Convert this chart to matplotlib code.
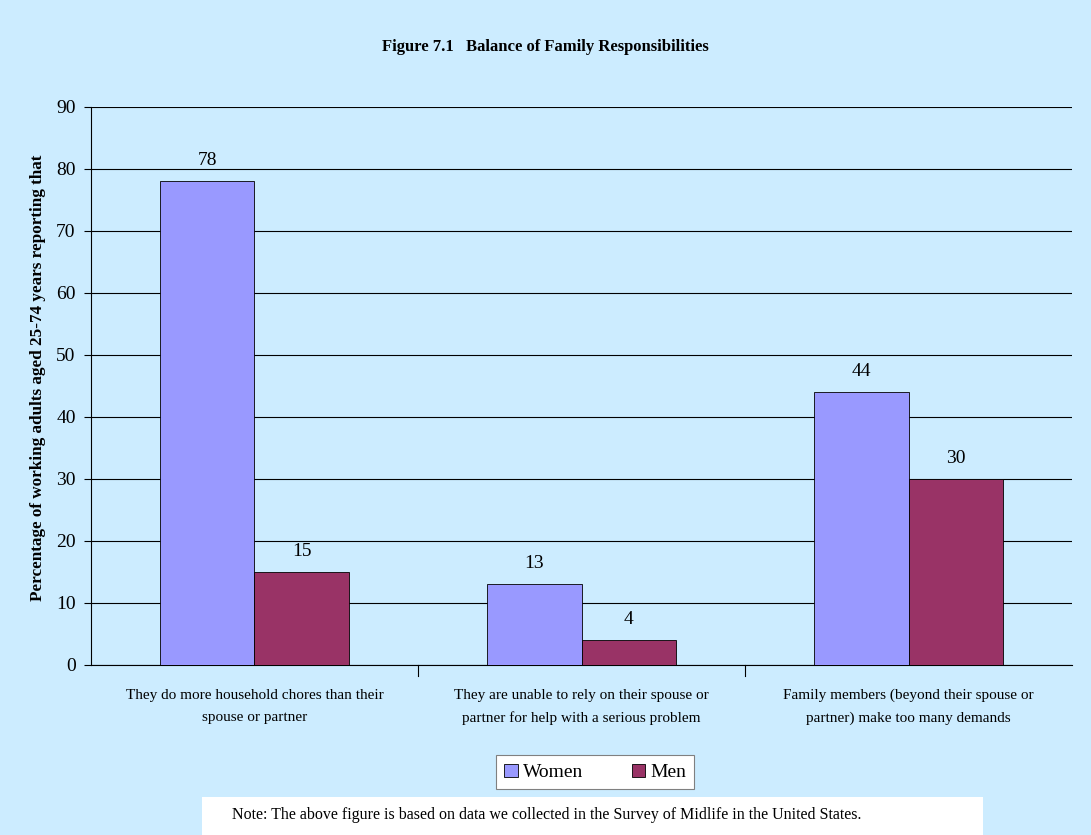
import numpy as np
import matplotlib.pyplot as plt
from matplotlib.patches import Rectangle

categories = [
    "They do more household chores than their\nspouse or partner",
    "They are unable to rely on their spouse or\npartner for help with a serious problem",
    "Family members (beyond their spouse or\npartner) make too many demands",
]
women = [78, 13, 44]
men = [15, 4, 30]
yticks = list(range(0, 100, 10))

bg = "#CCECFF"
plt.rcParams["font.family"] = ["Liberation Serif", "DejaVu Serif"]

fig = plt.figure(figsize=(10.91, 8.35), dpi=100, facecolor=bg)
ax = fig.add_axes([0.0834, 0.2036, 0.8992, 0.6683], facecolor=bg)

x = np.arange(len(categories))
w = 0.288
b1 = ax.bar(x - w / 2, women, w, color="#9999FF", edgecolor="black", linewidth=0.6, label="Women", zorder=3)
b2 = ax.bar(x + w / 2, men, w, color="#993366", edgecolor="black", linewidth=0.6, label="Men", zorder=3)

for bars, vals in ((b1, women), (b2, men)):
    for r, v in zip(bars, vals):
        ax.text(r.get_x() + r.get_width() / 2, v + 3.3, str(v), ha="center", va="center", fontsize=14)

ax.set_xlim(-0.5, len(categories) - 0.5)
ax.set_ylim(0, 90)
ax.set_yticks(yticks)
ax.tick_params(axis="y", labelsize=14, length=5, width=0.8, direction="out", pad=6)
ax.yaxis.grid(True, color="black", linewidth=0.8, zorder=0)
ax.set_axisbelow(True)

# category labels centred, tick marks on the boundaries
ax.set_xticks(x)
ax.set_xticklabels(categories, fontsize=11, linespacing=1.9)
ax.tick_params(axis="x", length=0, pad=17)
for b in np.arange(0.5, len(categories) - 0.5, 1):
    ax.plot([b, b], [0, -1.8], color="black", lw=0.8, clip_on=False)

for s in ("top", "right"):
    ax.spines[s].set_visible(False)
for s in ("left", "bottom"):
    ax.spines[s].set_linewidth(0.8)

fig.text(0.0345, 0.548, "Percentage of working adults aged 25-74 years reporting that",
         rotation=90, ha="center", va="center", fontsize=12.3, fontweight="bold")

fig.text(0.4995, 0.9437, "Figure 7.1   Balance of Family Responsibilities",
         ha="center", va="center", fontsize=12, fontweight="bold")

leg = fig.legend(loc="center", bbox_to_anchor=(0.5454, 0.0749), ncol=2, fontsize=14,
                 frameon=True, fancybox=False, edgecolor="#808080", facecolor="white",
                 framealpha=1, handlelength=0.7, handleheight=0.7, handletextpad=0.25,
                 columnspacing=2.5, borderpad=0.42, borderaxespad=0)
leg.get_frame().set_linewidth(0.8)

fig.patches.append(Rectangle((0.185, 0.0), 0.716, 0.0455, transform=fig.transFigure,
                             facecolor="white", edgecolor="none"))
fig.text(0.213, 0.0235,
         "Note: The above figure is based on data we collected in the Survey of Midlife in the United States.",
         ha="left", va="center", fontsize=11.5)

fig.savefig("out.png", dpi=100, facecolor=bg)
